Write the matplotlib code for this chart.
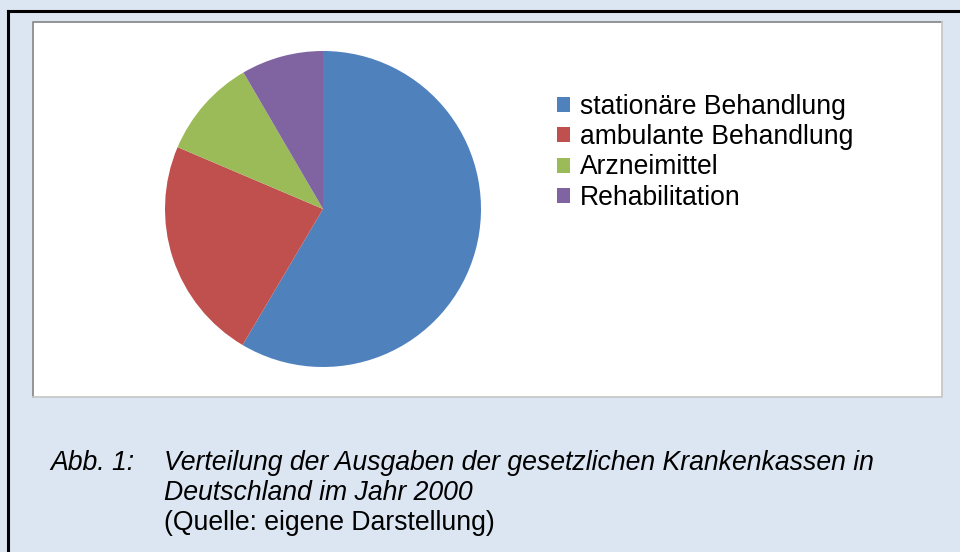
import matplotlib
matplotlib.use("Agg")
import matplotlib.pyplot as plt
from matplotlib.patches import Rectangle
from matplotlib.lines import Line2D

plt.rcParams['font.family'] = ['Liberation Sans', 'DejaVu Sans']

# data (percent of expenses)
categories = ['stationäre Behandlung', 'ambulante Behandlung', 'Arzneimittel', 'Rehabilitation']
values = [58.5, 22.9, 10.2, 8.4]
colors = ['#4f81bd', '#c0504d', '#9bbb59', '#8064a2']
caption_label = 'Abb. 1:'
caption_lines = ['Verteilung der Ausgaben der gesetzlichen Krankenkassen in',
                 'Deutschland im Jahr 2000']
source_line = '(Quelle: eigene Darstellung)'

W, H = 960, 552
fig = plt.figure(figsize=(W / 100, H / 100), dpi=100, facecolor='#dce6f2')


def fx(x):
    return x / W


def fy(y):
    return 1 - y / H


# outer black frame (top and left visible)
fig.add_artist(Line2D([fx(8), fx(8)], [fy(11), 0], color='black', lw=2.2,
                      transform=fig.transFigure, zorder=-1))
fig.add_artist(Line2D([fx(8), 1], [fy(11), fy(11)], color='black', lw=2.2,
                      transform=fig.transFigure, zorder=-1))

# white chart panel
fig.add_artist(Rectangle((fx(33), fy(397)), fx(942) - fx(33), fy(22) - fy(397),
                         facecolor='white', edgecolor='none', transform=fig.transFigure,
                         zorder=-2))
fig.add_artist(Line2D([fx(33), fx(33), fx(942)], [fy(397), fy(22), fy(22)],
                      color='#8c8c8c', lw=1.3, transform=fig.transFigure, zorder=-1))
fig.add_artist(Line2D([fx(33), fx(942), fx(942)], [fy(397), fy(397), fy(22)],
                      color='#c8c8c8', lw=1.3, transform=fig.transFigure, zorder=-1))

# pie
cx, cy, r = 323, 209, 158
ax = fig.add_axes([fx(cx - r), fy(cy + r), (2 * r) / W, (2 * r) / H])
wedges, _ = ax.pie(values, colors=colors, startangle=90, counterclock=False,
                   radius=1, wedgeprops=dict(linewidth=0))
ax.set_xlim(-1, 1)
ax.set_ylim(-1, 1)
ax.set_aspect('equal')
ax.axis('off')

leg = fig.legend(wedges, categories, loc='upper left', bbox_to_anchor=(fx(557), fy(94)),
                 frameon=False, fontsize=19.1, handlelength=0.5, handleheight=0.5,
                 handletextpad=0.35, labelspacing=0.16, borderpad=0, borderaxespad=0)

# caption
cap_style = dict(fontsize=19.2, style='italic', color='black', va='baseline')
fig.text(fx(50), fy(470), caption_label, **cap_style)
fig.text(fx(164), fy(470), caption_lines[0], **cap_style)
fig.text(fx(164), fy(499.5), caption_lines[1], **cap_style)
fig.text(fx(164), fy(529.5), source_line, fontsize=19.2, color='black', va='baseline')

fig.savefig('out.png', dpi=100, facecolor=fig.get_facecolor())
